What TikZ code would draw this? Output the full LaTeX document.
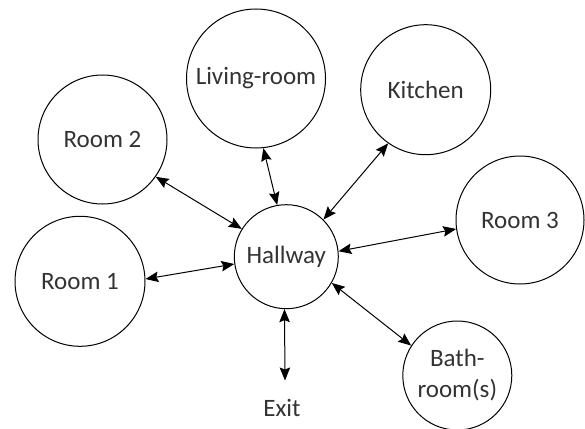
\documentclass[tikz,border=0pt]{standalone}
\usepackage{fontspec}
\setmainfont{Carlito}
\usetikzlibrary{arrows.meta}
\definecolor{txt}{HTML}{333333}
\tikzset{
  room/.style={circle, draw=black, line width=1pt, inner sep=0pt, align=center,
    text=txt, font=\fontsize{25}{31}\selectfont},
  link/.style={line width=1pt, {Stealth[length=13pt,width=10.5pt,inset=2pt]}-{Stealth[length=13pt,width=10.5pt,inset=2pt]}},
  lbl/.style={text=txt, font=\fontsize{25}{31}\selectfont, inner sep=0pt}
}
\begin{document}
\begin{tikzpicture}[x=1pt,y=-1pt]
\useasboundingbox (0,0) rectangle (585,428);
\node[room, minimum size=104pt] (hall) at (286.3,256.7) {Hallway};
\node[room, minimum size=139pt] (liv) at (256,78.5) {\raisebox{-3pt}{Living-room}};
\node[room, minimum size=130pt] (kit) at (425.7,89.7) {Kitchen};
\node[room, minimum size=129pt] (r2) at (102.5,139.5) {Room 2};
\node[room, minimum size=130pt] (r1) at (80,281.3) {Room 1};
\node[room, minimum size=128pt] (r3) at (520,220) {Room 3};
\node[room, minimum size=109pt] (bath) at (457.3,375.5) {Bath-\\room(s)};
\node[lbl] (exit) at (282,408) {Exit};
\coordinate (exitend) at (285,380.5);
\draw[link] (r2.-35.2) -- (hall.148.9);
\draw[link] (liv.-84) -- (hall.100);
\draw[link] (kit.-125.7) -- (hall.45.9);
\draw[link] (r1.2) -- (hall.188);
\draw[link] (hall.6) -- (r3.188);
\draw[link] (hall.-30) -- (bath.147);
\draw[link] (hall.-92) -- (exitend);
\end{tikzpicture}
\end{document}
